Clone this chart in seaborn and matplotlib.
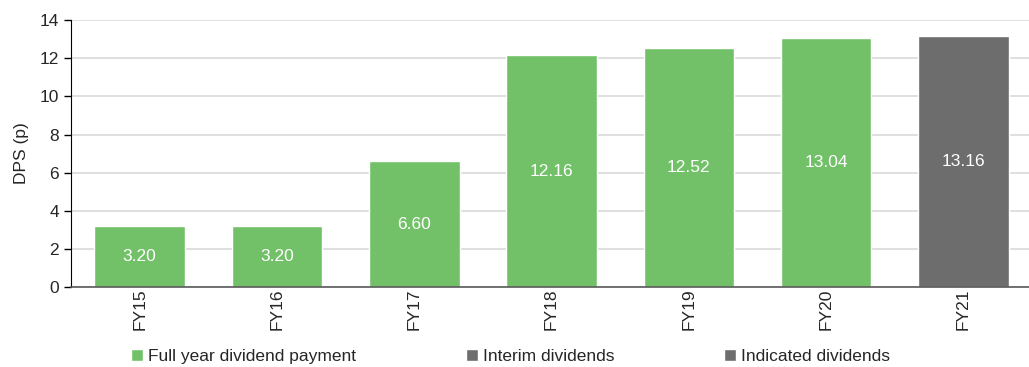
import numpy as np
import pandas as pd
import matplotlib
matplotlib.use("Agg")
import matplotlib.pyplot as plt
import seaborn as sns
from matplotlib.patches import Patch

years = ["FY15", "FY16", "FY17", "FY18", "FY19", "FY20", "FY21"]
dps = [3.20, 3.20, 6.60, 12.16, 12.52, 13.04, 13.16]
kind = ["Full year", "Full year", "Full year", "Full year", "Full year", "Full year", "Indicated"]
legend_labels = ["Full year dividend payment", "Interim dividends", "Indicated dividends"]

GREEN = "#72c169"
GREY = "#6d6d6d"

sns.set_style("white")
plt.rcParams["font.family"] = ["Liberation Sans", "DejaVu Sans"]

df = pd.DataFrame({"Year": years, "DPS": dps, "Kind": kind})

fig = plt.figure(figsize=(10.29, 3.67), dpi=100)
ax = fig.add_axes([0.069, 0.218, 0.934, 0.727])

sns.barplot(data=df, x="Year", y="DPS", hue="Kind", dodge=False,
            palette={"Full year": GREEN, "Indicated": GREY},
            width=0.66, saturation=1, legend=False, ax=ax)

for c in ax.containers:
    ax.bar_label(c, fmt="%.2f", label_type="center", color="white", fontsize=12.5)

ax.set_ylim(0, 14)
ax.set_yticks(np.arange(0, 15, 2))
ax.set_xlim(-0.5, 6.5)
ax.yaxis.grid(True, color="#d9d9d9", linewidth=1.2)
ax.set_axisbelow(True)

# category ticks between bars
ax.set_xticks(np.arange(-0.5, 6.5, 1), minor=True)
ax.tick_params(axis="x", which="major", length=0, labelrotation=90, labelsize=12.5, pad=1)
ax.tick_params(axis="x", which="minor", length=5, width=1, color="black", direction="out")
ax.tick_params(axis="y", length=5, width=1, color="black", direction="out", labelsize=12.5, left=True)

for s in ["top", "right"]:
    ax.spines[s].set_visible(False)
ax.spines["left"].set_color("black")
ax.spines["bottom"].set_color("#595959")
ax.spines["bottom"].set_linewidth(1.2)

ax.set_xlabel("")
ax.set_ylabel("DPS (p)", fontsize=12.5, labelpad=8)

handles = [Patch(facecolor=GREEN), Patch(facecolor=GREY), Patch(facecolor=GREY)]
fig.legend(handles, legend_labels, loc="lower left", bbox_to_anchor=(0.112, -0.035),
           ncol=3, frameon=False, fontsize=12.5, handlelength=0.7, handleheight=0.7,
           handletextpad=0.3, columnspacing=6.3)

fig.savefig("out.png", dpi=100)
